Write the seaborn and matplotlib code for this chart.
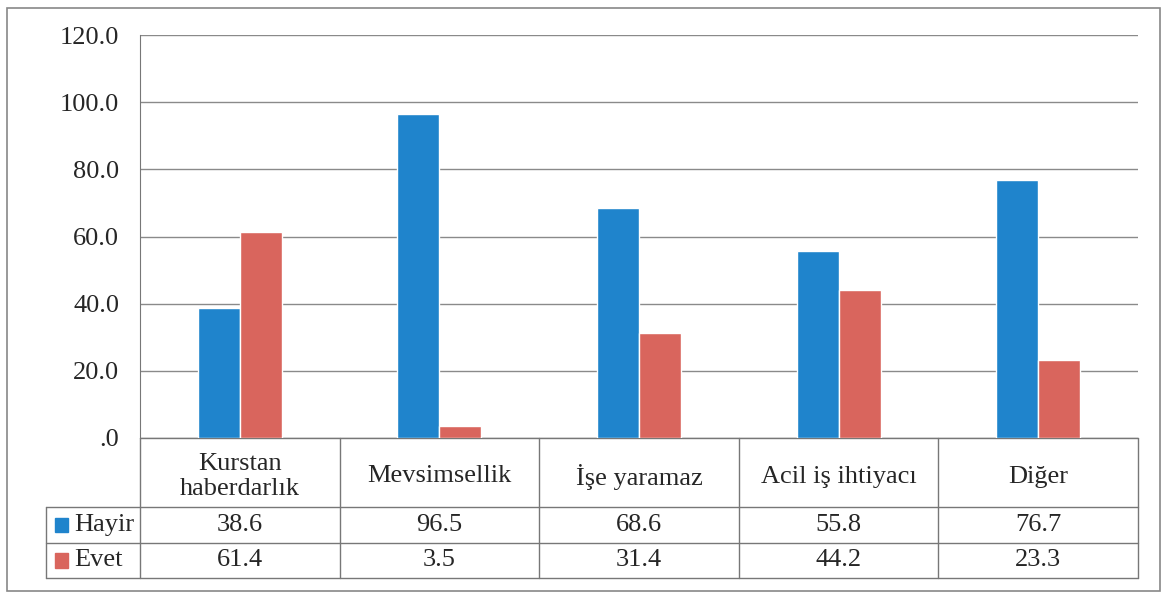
import pandas as pd
import numpy as np
import matplotlib
import matplotlib.pyplot as plt
import seaborn as sns
from matplotlib.patches import Rectangle

matplotlib.use('Agg')

# data
kategoriler = ['Kurstan\nhaberdarlık', 'Mevsimsellik', 'İşe yaramaz', 'Acil iş ihtiyacı', 'Diğer']
seriler = ['Hayir', 'Evet']
hayir = [38.6, 96.5, 68.6, 55.8, 76.7]
evet = [61.4, 3.5, 31.4, 44.2, 23.3]
y_ticks = [0, 20, 40, 60, 80, 100, 120]
y_labels = ['.0', '20.0', '40.0', '60.0', '80.0', '100.0', '120.0']

renkler = {'Hayir': '#1f84cc', 'Evet': '#d9655d'}

df = pd.DataFrame({
    'kategori': kategoriler * 2,
    'seri': ['Hayir'] * len(hayir) + ['Evet'] * len(evet),
    'deger': hayir + evet,
})

sns.set_style('white')
FONT = 'Liberation Serif'
plt.rcParams['font.family'] = FONT
FS = 19
yazi = dict(fontsize=FS, family=FONT)

W, H = 1164, 596
fig = plt.figure(figsize=(W / 100, H / 100), dpi=100)
ax = fig.add_axes([140 / W, 1 - 438 / H, (1138 - 140) / W, (438 - 35) / H])

sns.barplot(data=df, x='kategori', y='deger', hue='seri', palette=renkler,
            width=0.42, saturation=1, legend=False, ax=ax, zorder=3)

ax.set_xlim(-0.5, 4.5)
ax.set_ylim(0, 120)
ax.set_yticks(y_ticks)
ax.set_yticklabels(y_labels, **yazi)
ax.tick_params(axis='y', length=0, pad=15)
ax.set_xticks([])
ax.set_xlabel('')
ax.set_ylabel('')
ax.grid(axis='y', color='#8a8a8a', linewidth=1, zorder=0)
ax.grid(axis='x', visible=False)
for s in ['top', 'right', 'bottom']:
    ax.spines[s].set_visible(False)
ax.spines['left'].set_color('#777777')

# data table under the axis
tr = ax.get_xaxis_transform()
ust, s1, s2, s3 = 0.0, -(507 - 438) / 403, -(543 - 438) / 403, -(578 - 438) / 403
sol = -0.5 - (140 - 46) / 199.6
cizgi = dict(color='#777777', linewidth=1, transform=tr, clip_on=False)
ax.plot([-0.5, 4.5], [ust, ust], **cizgi)
for yy in [s1, s2, s3]:
    ax.plot([sol, 4.5], [yy, yy], **cizgi)
for xx in np.arange(-0.5, 5.0, 1.0):
    ax.plot([xx, xx], [ust, s3], **cizgi)
ax.plot([sol, sol], [s1, s3], **cizgi)

baslik_y = (ust + s1) / 2 - 4 / 403
for i, kat in enumerate(kategoriler):
    ax.text(i, baslik_y, kat, ha='center', va='center',
            transform=tr, clip_on=False, linespacing=1.12, **yazi)
    ax.text(i, (s1 + s2) / 2, f'{hayir[i]:.1f}', ha='center', va='center',
            transform=tr, clip_on=False, **yazi)
    ax.text(i, (s2 + s3) / 2, f'{evet[i]:.1f}', ha='center', va='center',
            transform=tr, clip_on=False, **yazi)

for ad, (y0, y1) in zip(seriler, [(s1, s2), (s2, s3)]):
    ym = (y0 + y1) / 2
    kare = Rectangle((sol + 0.045, ym - 0.018), 0.066, 0.036, transform=tr,
                     color=renkler[ad], clip_on=False)
    ax.add_patch(kare)
    ax.text(sol + 0.14, ym, ad, ha='left', va='center',
            transform=tr, clip_on=False, **yazi)

# outer frame
fig.add_artist(Rectangle((7 / W, 1 - 591 / H), (1160 - 7) / W, (591 - 8) / H,
                         transform=fig.transFigure, fill=False,
                         edgecolor='#888888', linewidth=1.2))

fig.savefig('out.png', dpi=100)
